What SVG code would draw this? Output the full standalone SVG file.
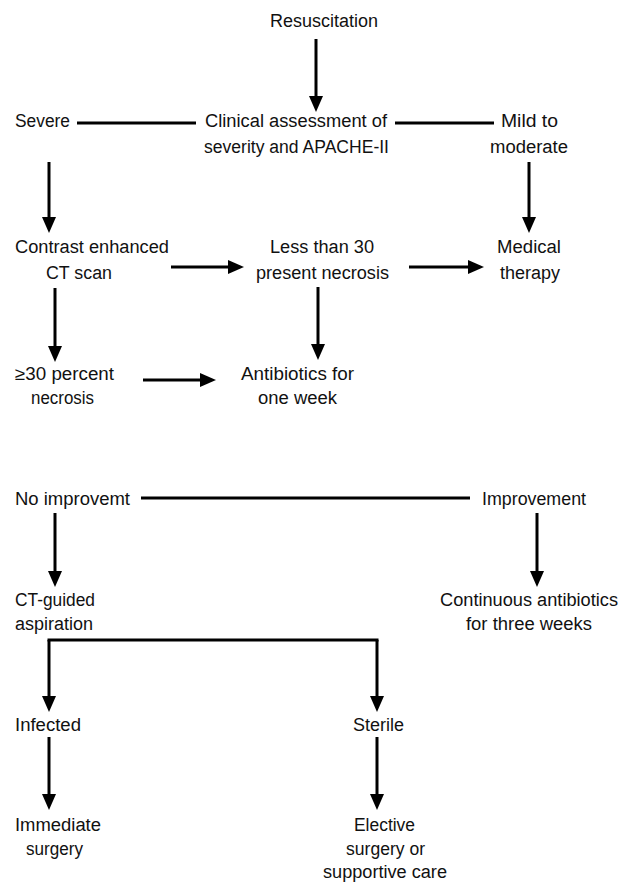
<svg xmlns="http://www.w3.org/2000/svg" width="626" height="887" viewBox="0 0 626 887">
<style>
text{font-family:"Liberation Sans",Arial,sans-serif;font-size:18px;fill:#111;}
.c{stroke:#000;stroke-width:3;fill:none;}
.a{marker-end:url(#ah);}
</style>
<defs>
<marker id="ah" markerUnits="userSpaceOnUse" markerWidth="16" markerHeight="14" refX="4" refY="7" orient="auto" viewBox="0 0 16 14">
<path d="M0,0 L16,7 L0,14 z" fill="#000"/>
</marker>
</defs>
<rect width="626" height="887" fill="#fff"/>
<g id="connectors">
<line class="c a" x1="316" y1="39" x2="316" y2="100"/>
<line class="c" x1="77" y1="123" x2="196" y2="123"/>
<line class="c" x1="395" y1="123" x2="494" y2="123"/>
<line class="c a" x1="49" y1="162" x2="49" y2="221"/>
<line class="c a" x1="529" y1="162" x2="529" y2="221"/>
<line class="c a" x1="171" y1="267" x2="232" y2="267"/>
<line class="c a" x1="409" y1="267" x2="472" y2="267"/>
<line class="c a" x1="55" y1="288" x2="55" y2="350"/>
<line class="c a" x1="318" y1="287" x2="318" y2="348"/>
<line class="c a" x1="143" y1="380" x2="204" y2="380"/>
<line class="c" x1="141" y1="498" x2="470" y2="498"/>
<line class="c a" x1="55" y1="513" x2="55" y2="575"/>
<line class="c a" x1="537" y1="513" x2="537" y2="575"/>
<line class="c" x1="47.5" y1="640" x2="378.5" y2="640"/>
<line class="c a" x1="49" y1="640" x2="49" y2="700"/>
<line class="c a" x1="377" y1="640" x2="377" y2="700"/>
<line class="c a" x1="49" y1="737" x2="49" y2="798"/>
<line class="c a" x1="377" y1="737" x2="377" y2="798"/>
</g>
<g id="n-resuscitation"><text x="270" y="27" textLength="108" lengthAdjust="spacingAndGlyphs">Resuscitation</text></g>
<g id="n-severe"><text x="15" y="127" textLength="55" lengthAdjust="spacingAndGlyphs">Severe</text></g>
<g id="n-clinical"><text x="205" y="127" textLength="182" lengthAdjust="spacingAndGlyphs">Clinical assessment of</text><text x="204" y="153" textLength="185" lengthAdjust="spacingAndGlyphs">severity and APACHE-II</text></g>
<g id="n-mild"><text x="501" y="127" textLength="57" lengthAdjust="spacingAndGlyphs">Mild to</text><text x="490" y="153" textLength="78" lengthAdjust="spacingAndGlyphs">moderate</text></g>
<g id="n-ct"><text x="15" y="253" textLength="154" lengthAdjust="spacingAndGlyphs">Contrast enhanced</text><text x="46" y="279" textLength="66" lengthAdjust="spacingAndGlyphs">CT scan</text></g>
<g id="n-less30"><text x="270" y="253" textLength="104" lengthAdjust="spacingAndGlyphs">Less than 30</text><text x="256" y="279" textLength="133" lengthAdjust="spacingAndGlyphs">present necrosis</text></g>
<g id="n-medical"><text x="497" y="253" textLength="64" lengthAdjust="spacingAndGlyphs">Medical</text><text x="500" y="279" textLength="60" lengthAdjust="spacingAndGlyphs">therapy</text></g>
<g id="n-ge30"><text x="15" y="380" textLength="99" lengthAdjust="spacingAndGlyphs">≥30 percent</text><text x="31" y="404" textLength="63" lengthAdjust="spacingAndGlyphs">necrosis</text></g>
<g id="n-antibiotics"><text x="241" y="380" textLength="113" lengthAdjust="spacingAndGlyphs">Antibiotics for</text><text x="258" y="404" textLength="79" lengthAdjust="spacingAndGlyphs">one week</text></g>
<g id="n-noimprove"><text x="15" y="505" textLength="115" lengthAdjust="spacingAndGlyphs">No improvemt</text></g>
<g id="n-improve"><text x="482" y="505" textLength="104" lengthAdjust="spacingAndGlyphs">Improvement</text></g>
<g id="n-aspiration"><text x="15" y="606" textLength="80" lengthAdjust="spacingAndGlyphs">CT-guided</text><text x="15" y="630" textLength="78" lengthAdjust="spacingAndGlyphs">aspiration</text></g>
<g id="n-continuous"><text x="440" y="606" textLength="178" lengthAdjust="spacingAndGlyphs">Continuous antibiotics</text><text x="466" y="630" textLength="126" lengthAdjust="spacingAndGlyphs">for three weeks</text></g>
<g id="n-infected"><text x="15" y="731" textLength="66" lengthAdjust="spacingAndGlyphs">Infected</text></g>
<g id="n-sterile"><text x="353" y="731" textLength="51" lengthAdjust="spacingAndGlyphs">Sterile</text></g>
<g id="n-immediate"><text x="15" y="831" textLength="86" lengthAdjust="spacingAndGlyphs">Immediate</text><text x="26" y="855" textLength="57" lengthAdjust="spacingAndGlyphs">surgery</text></g>
<g id="n-elective"><text x="354" y="831" textLength="61" lengthAdjust="spacingAndGlyphs">Elective</text><text x="346" y="855" textLength="79" lengthAdjust="spacingAndGlyphs">surgery or</text><text x="323" y="878" textLength="124" lengthAdjust="spacingAndGlyphs">supportive care</text></g>
</svg>
